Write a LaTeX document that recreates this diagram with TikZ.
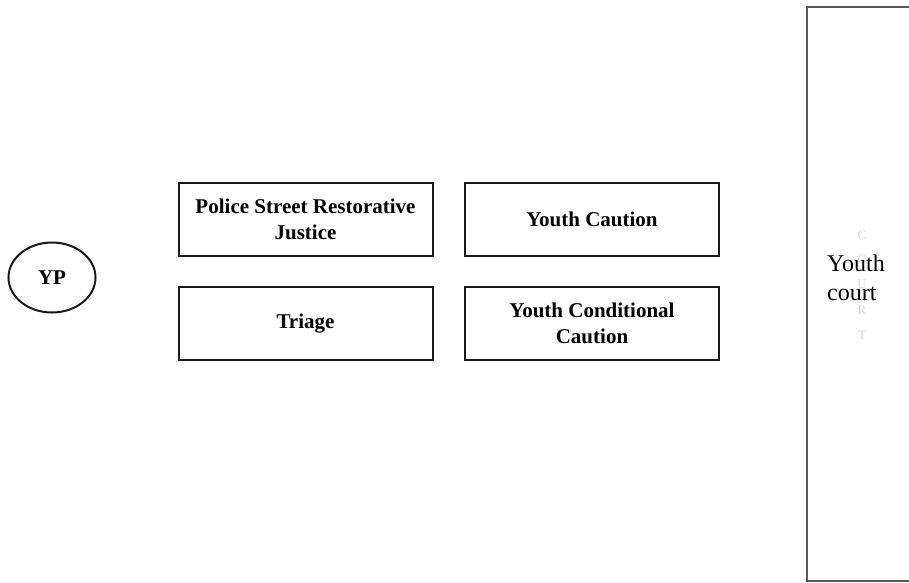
\documentclass[tikz,border=0pt]{standalone}
\usepackage{fontspec}
\setmainfont{Liberation Serif}
\usetikzlibrary{shapes.geometric}
\begin{document}
\begin{tikzpicture}[x=1pt,y=-1pt,
  stagebox/.style={draw=black!90,line width=2pt,rectangle,inner sep=0pt,
    minimum width=254pt,minimum height=73pt,align=center,
    font=\bfseries\fontsize{21}{26}\selectfont},
  faint/.style={text=black!15,inner sep=0pt,font=\fontsize{13}{15}\selectfont}]
\useasboundingbox (0,0) rectangle (909,582);
\clip (0,0) rectangle (909,582);
\fill[white] (0,0) rectangle (909,582);
\node[draw=black!90,line width=2pt,ellipse,minimum width=87pt,minimum height=70pt,inner sep=0pt,
  font=\bfseries\fontsize{21}{25}\selectfont] (yp) at (52,277.5) {YP};
\node[stagebox] (psrj) at (305.5,219.5) {Police Street Restorative\\Justice};
\node[stagebox] (triage) at (305.5,323.5) {Triage};
\node[stagebox] (yc) at (592,219.5) {Youth Caution};
\node[stagebox] (ycc) at (592,323.5) {Youth Conditional\\Caution};
\draw[black!65,line width=2.5pt] (930,7) -- (807,7) -- (807,581) -- (930,581);
\node[faint] (lc) at (862,235) {C};
\node[faint] (lo) at (862,259) {O};
\node[faint] (lu) at (862,284) {U};
\node[faint] (lr) at (862,310) {R};
\node[faint] (lt) at (862,335) {T};
\node[anchor=west,align=left,inner sep=0pt,font=\fontsize{24}{29}\selectfont] (court) at (827,277.5) {Youth\\court};
\end{tikzpicture}
\end{document}
